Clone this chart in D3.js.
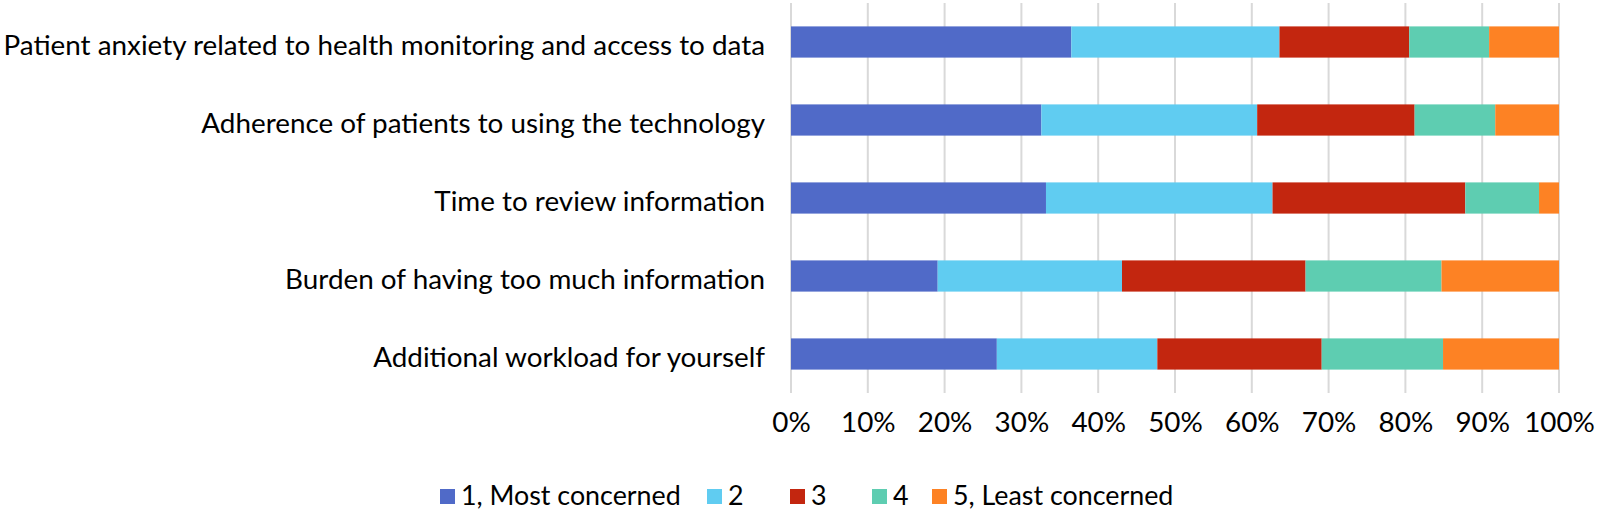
<!DOCTYPE html>
<html>
  <head>
    <style>
      body,
      html {
        margin: 0;
        padding: 0;
        background: #fff;
        overflow: hidden;
      }
      svg {
        display: block;
      }
      text {
        font-family: Lato, "Open Sans", sans-serif;
        fill: #000;
      }
    </style>
  </head>
  <body>
    <script src="https://cdn.jsdelivr.net/npm/d3@7"></script>
    <script>
      const width = 1600;
      const height = 512;

      // categories, top to bottom
      const categories = [
        "Patient anxiety related to health monitoring and access to data",
        "Adherence of patients to using the technology",
        "Time to review information",
        "Burden of having too much information",
        "Additional workload for yourself",
      ];

      const seriesNames = [
        "1, Most concerned",
        "2",
        "3",
        "4",
        "5, Least concerned",
      ];
      const seriesColors = ["#506AC8", "#60CCF1", "#C3260F", "#5ECDB1", "#FD8224"];

      // shares (%) per category
      const mostConcerned = [36.5, 32.6, 33.2, 19.1, 26.8];
      const level2 = [27.1, 28.1, 29.5, 24.0, 20.9];
      const level3 = [16.9, 20.5, 25.1, 23.9, 21.4];
      const level4 = [10.4, 10.5, 9.6, 17.7, 15.8];
      const leastConcerned = [9.1, 8.3, 2.6, 15.3, 15.1];

      const tickValues = [0, 0.1, 0.2, 0.3, 0.4, 0.5, 0.6, 0.7, 0.8, 0.9, 1];

      const seriesData = [mostConcerned, level2, level3, level4, leastConcerned];

      const rows = categories.map(function (c, i) {
        const row = { name: c };
        let total = 0;
        seriesData.forEach(function (s) {
          total += s[i];
        });
        seriesNames.forEach(function (k, j) {
          row[k] = seriesData[j][i] / total;
        });
        return row;
      });

      const stacked = d3.stack().keys(seriesNames)(rows);

      const svg = d3
        .select("body")
        .append("svg")
        .attr("width", width)
        .attr("height", height);

      const x = d3.scaleLinear().domain([0, 1]).range([791, 1559]);
      const y = d3
        .scaleBand()
        .domain(categories)
        .range([3, 393])
        .paddingInner(0.6)
        .paddingOuter(0.3);

      // gridlines
      svg
        .append("g")
        .selectAll("line")
        .data(tickValues)
        .enter()
        .append("line")
        .attr("x1", (d) => x(d))
        .attr("x2", (d) => x(d))
        .attr("y1", 3)
        .attr("y2", 393)
        .attr("stroke", "#D9D9D9")
        .attr("stroke-width", 2);

      // bars
      svg
        .append("g")
        .selectAll("g")
        .data(stacked)
        .enter()
        .append("g")
        .attr("fill", (d, i) => seriesColors[i])
        .selectAll("rect")
        .data((d) => d)
        .enter()
        .append("rect")
        .attr("x", (d) => x(d[0]))
        .attr("width", (d) => x(d[1]) - x(d[0]))
        .attr("y", (d) => y(d.data.name))
        .attr("height", y.bandwidth());

      // x axis labels
      const xAxis = d3
        .axisBottom(x)
        .tickValues(tickValues)
        .tickFormat(d3.format(".0%"))
        .tickSize(0)
        .tickPadding(0);

      const gx = svg.append("g").attr("transform", "translate(0,410)").call(xAxis);
      gx.select(".domain").remove();
      gx.selectAll("text")
        .attr("dy", "0.8em")
        .style("font-family", "Lato, sans-serif")
        .attr("fill", "#000");

      // category labels
      const catLabels = svg
        .append("g")
        .selectAll("text")
        .data(categories)
        .enter()
        .append("text")
        .attr("x", 765)
        .attr("y", (d) => y(d) + y.bandwidth() / 2)
        .attr("dy", "0.45em")
        .attr("text-anchor", "end")
        .attr("font-size", 28)
        .text((d) => d);

      // fit font size so the longest label spans like the picture
      const longW = catLabels.nodes()[0].getComputedTextLength();
      const catSize = (28 * 762) / longW;
      catLabels.attr("font-size", catSize);
      gx.selectAll("text").attr("font-size", catSize);

      // legend
      const legendX = [440, 707, 790, 872, 932];
      const legend = svg
        .append("g")
        .selectAll("g")
        .data(seriesNames)
        .enter()
        .append("g")
        .attr("transform", (d, i) => `translate(${legendX[i]},496)`);

      legend
        .append("rect")
        .attr("x", 0)
        .attr("y", -7)
        .attr("width", 15)
        .attr("height", 15)
        .attr("fill", (d, i) => seriesColors[i]);

      legend
        .append("text")
        .attr("x", 21)
        .attr("y", 0)
        .attr("dy", "0.33em")
        .attr("font-size", catSize - 1)
        .text((d) => d);
    </script>
  </body>
</html>
